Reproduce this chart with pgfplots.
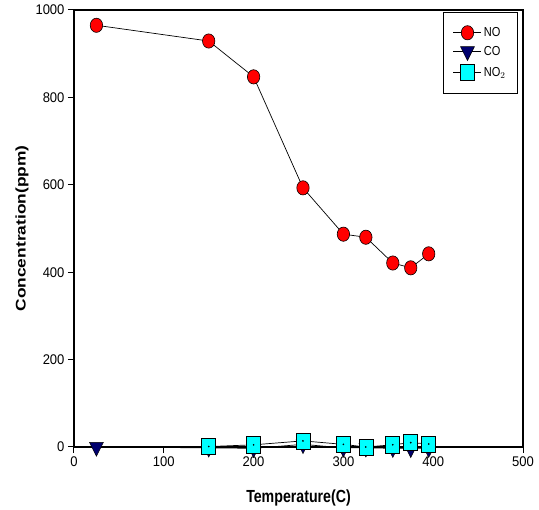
\documentclass[border=0pt]{standalone}
\usepackage{pgfplots}
\pgfplotsset{compat=1.18}
\usepackage{fontspec}
\setmainfont{Liberation Sans}
\newfontfamily\tickfont[FakeStretch=0.93]{Liberation Sans}
\newfontfamily\xlabfont[FakeStretch=0.81]{Liberation Sans}
\newfontfamily\ylabfont[FakeStretch=1.24]{Liberation Sans}
\newfontfamily\legfont[FakeStretch=0.85]{Liberation Sans}
\definecolor{nored}{RGB}{255,0,0}
\definecolor{conavy}{RGB}{0,0,110}
\definecolor{nocyan}{RGB}{0,255,255}
\begin{document}
\begin{tikzpicture}
\begin{axis}[
  scale only axis, width=449bp, height=437bp,
  xmin=0, xmax=500, ymin=0, ymax=1000,
  xtick={0,100,...,500}, ytick={0,200,...,1000},
  axis line style={line width=1.2bp},
  tick style={line width=1bp, black},
  tick align=outside, major tick length=6bp,
  xtick pos=bottom, ytick pos=left,
  clip=false,
  /pgf/number format/assume math mode=true,
  /pgf/number format/1000 sep={},
  tick label style={font=\tickfont\fontsize{14bp}{16bp}\selectfont},
  xlabel={Temperature(C)},
  ylabel={Concentration(ppm)},
  xlabel style={font=\xlabfont\bfseries\fontsize{17.5bp}{20bp}\selectfont, at={(axis description cs:0.5,-0.1167)}, anchor=center},
  ylabel style={font=\ylabfont\bfseries\fontsize{14bp}{16bp}\selectfont, at={(axis description cs:-0.1158,0.5)}, anchor=center},
  legend style={at={(1,1)}, anchor=north east, xshift=-5bp, yshift=-2bp, draw=black, line width=1bp,
    font=\legfont\fontsize{13bp}{15bp}\selectfont, inner xsep=10bp, inner ysep=13bp, row sep=4bp,
    cells={anchor=west}},
  legend image code/.code={\draw[line width=0.7bp, mark repeat=2,mark phase=2] plot coordinates {(0bp,0bp) (14bp,0bp) (28bp,0bp)};},
]
\addplot[black, line width=0.7bp, mark=*, mark size=6.2bp, mark options={fill=nored, draw=black, line width=0.6bp, yscale=1.15}]
  coordinates {(25,965) (150,929) (200,847) (255,593) (300,487) (325,480) (355,421) (375,410) (395,442)};
\addlegendentry{NO}
\addplot[black, line width=0.7bp, mark=triangle*, mark size=8bp, mark options={fill=conavy, draw=black, line width=0.5bp, rotate=180, yscale=1.15}]
  coordinates {(25,0) (150,-2) (200,-3) (255,6) (300,-2) (325,-2) (355,-3) (375,-3) (395,-3)};
\addlegendentry{CO}
\addplot[black, line width=0.7bp, mark=square*, mark size=7bp, mark options={fill=nocyan, draw=black, line width=0.6bp, yscale=1.15}]
  coordinates {(150,1) (200,5) (255,14) (300,6) (325,0) (355,5) (375,10) (395,7)};
\addlegendentry{NO$_2$}
\addplot[only marks, mark=*, mark size=0.6bp, black, forget plot]
  coordinates {(150,1) (200,5) (255,14) (300,6) (325,0) (355,5) (375,10) (395,7)};
\coordinate (sw) at (rel axis cs:0,0);
\coordinate (ne) at (rel axis cs:1,1);
\end{axis}
\path ([shift={(-74bp,-62bp)}]sw) rectangle ([shift={(16bp,10bp)}]ne);
\end{tikzpicture}
\end{document}
